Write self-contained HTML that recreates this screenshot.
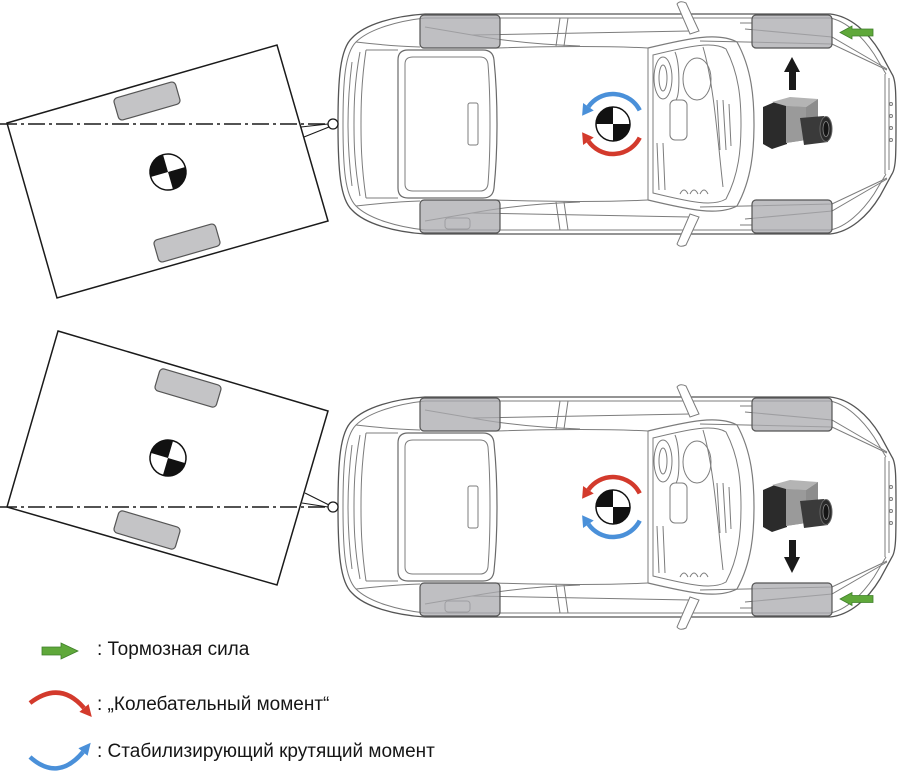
<!DOCTYPE html>
<html><head><meta charset="utf-8">
<style>
html,body{margin:0;padding:0;background:#fff;}
svg{display:block;}
text{font-family:"Liberation Sans","DejaVu Sans",sans-serif;fill:#151515;}
</style></head>
<body>
<svg width="900" height="774" viewBox="0 0 900 774" xmlns="http://www.w3.org/2000/svg">
<defs>
<g id="half" fill="none" stroke="#7c7c7c" stroke-width="1">
  <path d="M338,0 C338,-45 340,-75 352,-86 C365,-100 395,-108 425,-110 L830,-110 C850,-108 868,-92 880,-72 L892,-50 C896,-44 896,-30 896,0" stroke="#555" stroke-width="1.3"/>
  <path d="M343,0 C343,-44 345,-71 356,-82 C369,-95 398,-103 425,-106 L830,-106 C846,-103 862,-88 874,-70 L886,-50"/>
  <path d="M352,-62 C348,-30 348,-10 348,0"/>
  <path d="M360,-72 C354,-40 354,-15 354,0"/>
  <path d="M366,-74 C361,-40 361,-15 361,0"/>
  <path d="M366,-74 L398,-74"/>
  <path d="M356,-82 Q390,-78 420,-77"/>
  <path d="M398,0 L398,-64 Q398,-74 408,-74 L483,-74 Q493,-74 494,-64 C497,-35 497,-15 497,0" stroke="#6a6a6a" stroke-width="1.2"/>
  <path d="M405,0 L405,-60 Q405,-67 413,-67 L480,-67 Q487,-67 488,-60 C490,-35 490,-15 490,0"/>
  <path d="M494,-76 C560,-78 610,-78 648,-76"/>
  <path d="M472,-89 L690,-93"/>
  <path d="M472,-89 Q520,-80 580,-78"/>
  <path d="M425,-97 L472,-89"/>
  <path d="M560,-106 L556,-78 M568,-106 L564,-78"/>
  <path d="M677,-120 Q680,-124 686,-121 L699,-93 L690,-90 Z" fill="#fff"/>
  <path d="M648,-76 C690,-86 718,-92 737,-82 C752,-55 754,-25 754,0" stroke-width="1.2"/>
  <path d="M653,0 L653,-69 C690,-78 713,-83 726,-75 C739,-50 741,-25 741,0"/>
  <path d="M745,-95 L832,-87 L887,-55"/>
  <path d="M700,-83 L832,-80 L887,-54"/>
  <path d="M740,-101 L752,-101"/>
  <path d="M885,-50 L885,0 M889,-46 L889,0"/>
  <path d="M648,-76 L648,0"/>
</g>
<g id="car">
  <use href="#half"/>
  <use href="#half" transform="scale(1,-1)"/>
  <g fill="none" stroke="#7c7c7c" stroke-width="1">
    <rect x="468" y="-21" width="10" height="42" rx="2"/>
    <ellipse cx="663" cy="-46" rx="9" ry="21"/>
    <ellipse cx="663" cy="-46" rx="4" ry="13"/>
    <ellipse cx="697" cy="-45" rx="14" ry="21"/>
    <rect x="670" y="-24" width="17" height="40" rx="5"/>
    <path d="M717,-24 L720,26 M723,-24 L726,26 M729,-20 L731,22"/>
    <path d="M657,19 L659,66 M663,19 L665,66"/>
    <path d="M680,70 q4,-8 8,0 M690,70 q4,-8 8,0 M700,70 q4,-8 8,0"/>
    <path d="M703,-77 C714,-40 718,20 723,63"/>
    <path d="M675,-72 C680,-60 680,-30 676,-24"/>
    <rect x="445" y="94" width="25" height="11" rx="3"/>
    <circle cx="891" cy="-20" r="1.5"/><circle cx="891" cy="-8" r="1.5"/><circle cx="891" cy="4" r="1.5"/><circle cx="891" cy="16" r="1.5"/>
  </g>
  <!-- wheels -->
  <g fill="#a9a9ad" fill-opacity="0.75" stroke="#555" stroke-width="1.2">
    <rect x="420" y="-109" width="80" height="33" rx="4"/>
    <rect x="752" y="-109" width="80" height="33" rx="4"/>
    <rect x="420" y="76" width="80" height="33" rx="4"/>
    <rect x="752" y="76" width="80" height="33" rx="4"/>
  </g>
  <!-- ABS unit -->
  <g>
    <polygon points="763,-17 777,-23 787,-20 787,20 772,25 763,20" fill="#2b2b2b"/>
    <polygon points="772,-22 790,-27 818,-25 806,-17 786,-18" fill="#b4b4b4"/>
    <polygon points="786,-18 806,-17 818,-25 818,10 806,16 786,19" fill="#8d8d8d"/>
    <polygon points="786,-18 806,-17 806,16 786,19" fill="#9a9a9a"/>
    <path d="M800,-6 L824,-8 L828,18 L804,21 Z" fill="#3a3a3a"/>
    <ellipse cx="826" cy="5" rx="6" ry="12.5" fill="#2a2a2a" stroke="#666" stroke-width="1"/>
    <ellipse cx="826" cy="5" rx="3" ry="7.5" fill="#151515" stroke="#888" stroke-width="0.8"/>
  </g>
  <!-- CG -->
  <g transform="translate(613,0)">
    <circle r="17" fill="#fff" stroke="#111" stroke-width="1.5"/>
    <path d="M0,0 L-17,0 A17,17 0 0 1 0,-17 Z" fill="#111"/>
    <path d="M0,0 L17,0 A17,17 0 0 1 0,17 Z" fill="#111"/>
  </g>
</g>
<g id="cg2">
  <circle r="18" fill="#fff" stroke="#111" stroke-width="1.5"/>
  <path d="M0,0 L-18,0 A18,18 0 0 1 0,-18 Z" fill="#111"/>
  <path d="M0,0 L18,0 A18,18 0 0 1 0,18 Z" fill="#111"/>
</g>
</defs>

<!-- ===== TOP ===== -->
<use href="#car" transform="translate(0,124)"/>
<!-- trailer top -->
<polygon points="7,123 277,45 328,221 57,298" fill="#fff" stroke="#1a1a1a" stroke-width="1.5"/>
<g transform="translate(147,101) rotate(-16)"><rect x="-32" y="-11.5" width="64" height="23" rx="4" fill="#c4c4c6" stroke="#555" stroke-width="1.2"/></g>
<g transform="translate(187,243) rotate(-16)"><rect x="-32" y="-11.5" width="64" height="23" rx="4" fill="#c4c4c6" stroke="#555" stroke-width="1.2"/></g>
<use href="#cg2" transform="translate(168,172) rotate(-16)"/>
<path d="M0,124 L327,124" stroke="#1a1a1a" stroke-width="1.4" stroke-dasharray="17 4 3 4" fill="none"/>
<path d="M301,127 L328,124 M304,137 L329,127" stroke="#1a1a1a" stroke-width="1.1" fill="none"/>
<circle cx="333" cy="124" r="5" fill="#fff" stroke="#1a1a1a" stroke-width="1.3"/>
<!-- rotation arrows top -->
<g transform="translate(613,124)">
  <path d="M26.73,-13.62 A30,30 0 0 0 -24.57,-17.21" fill="none" stroke="#4a90d9" stroke-width="4.5"/>
  <polygon points="-29.9,-20.94 -19.25,-13.48 -30.9,-8.2" fill="#4a90d9"/>
  <path d="M26.73,13.62 A30,30 0 0 1 -24.57,17.21" fill="none" stroke="#d33a2c" stroke-width="4.5"/>
  <polygon points="-29.9,20.94 -19.25,13.48 -30.9,8.2" fill="#d33a2c"/>
</g>
<!-- black up arrow -->
<polygon points="792,57 800,72 796,72 796,90 789,90 789,72 784,72" fill="#1a1a1a"/>
<!-- green arrow top -->
<polygon points="840,32.5 852,26 852,29 873,29 873,36 852,36 852,39" fill="#5fa83a" stroke="#3f7f2a" stroke-width="0.8"/>

<!-- ===== BOTTOM ===== -->
<use href="#car" transform="translate(0,507)"/>
<polygon points="58,331 328,411 277,585 7,507" fill="#fff" stroke="#1a1a1a" stroke-width="1.5"/>
<g transform="translate(188,388) rotate(16.5)"><rect x="-32" y="-11.5" width="64" height="23" rx="4" fill="#c4c4c6" stroke="#555" stroke-width="1.2"/></g>
<g transform="translate(147,530) rotate(16.5)"><rect x="-32" y="-11.5" width="64" height="23" rx="4" fill="#c4c4c6" stroke="#555" stroke-width="1.2"/></g>
<use href="#cg2" transform="translate(168,458) rotate(16.5)"/>
<path d="M0,507 L327,507" stroke="#1a1a1a" stroke-width="1.4" stroke-dasharray="17 4 3 4" fill="none"/>
<path d="M305,493 L329,505 M302,503 L328,507" stroke="#1a1a1a" stroke-width="1.1" fill="none"/>
<circle cx="333" cy="507" r="5" fill="#fff" stroke="#1a1a1a" stroke-width="1.3"/>
<g transform="translate(613,507)">
  <path d="M26.73,-13.62 A30,30 0 0 0 -24.57,-17.21" fill="none" stroke="#d33a2c" stroke-width="4.5"/>
  <polygon points="-29.9,-20.94 -19.25,-13.48 -30.9,-8.2" fill="#d33a2c"/>
  <path d="M26.73,13.62 A30,30 0 0 1 -24.57,17.21" fill="none" stroke="#4a90d9" stroke-width="4.5"/>
  <polygon points="-29.9,20.94 -19.25,13.48 -30.9,8.2" fill="#4a90d9"/>
</g>
<polygon points="789,540 796,540 796,557 800,557 792,573 784,557 789,557" fill="#1a1a1a"/>
<polygon points="840,599 852,592.5 852,595.5 873,595.5 873,602.5 852,602.5 852,605.5" fill="#5fa83a" stroke="#3f7f2a" stroke-width="0.8"/>

<!-- ===== LEGEND ===== -->
<polygon points="42,647 61,647 61,643 78,651 61,659 61,655 42,655" fill="#5fa83a" stroke="#3f7f2a" stroke-width="0.8"/>
<text x="97" y="655" font-size="19">: Тормозная сила</text>

<path d="M30,703 Q60,680 84,708" fill="none" stroke="#d33a2c" stroke-width="4.5"/>
<polygon points="88.6,704.1 79.4,711.9 91.8,717" fill="#d33a2c"/>
<text x="97" y="710" font-size="19">: „Колебательный момент“</text>

<path d="M30,757 Q58,782 83,752" fill="none" stroke="#4a90d9" stroke-width="4.5"/>
<polygon points="87.6,755.8 78.4,748.2 90.7,742.8" fill="#4a90d9"/>
<text x="97" y="757" font-size="19">: Стабилизирующий крутящий момент</text>
</svg>
</body></html>
